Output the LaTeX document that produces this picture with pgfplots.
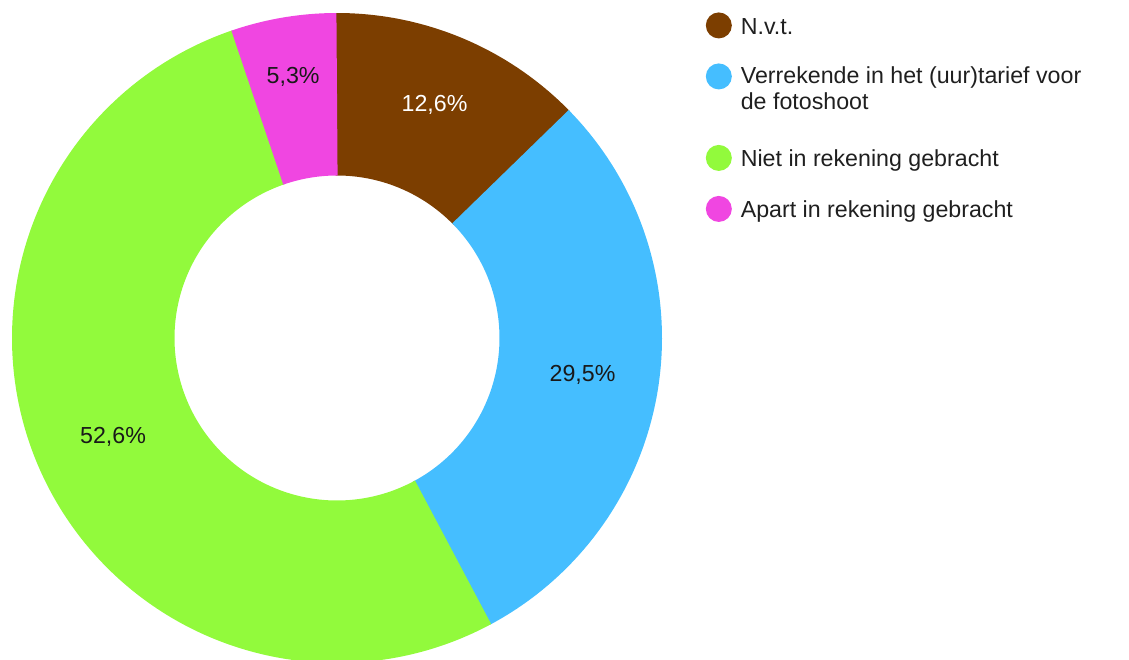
\documentclass[border=0pt]{standalone}
\usepackage{fontspec}
\setmainfont{Liberation Sans}
\usepackage{pgfplots}
\pgfplotsset{compat=1.18}

\definecolor{cNvt}{RGB}{124,62,0}
\definecolor{cVerr}{RGB}{69,190,255}
\definecolor{cNiet}{RGB}{146,250,60}
\definecolor{cApart}{RGB}{240,70,225}

% shares in percent, clockwise from 12 o'clock
\def\vA{12.6}
\def\vB{29.5}
\def\vC{52.6}
\def\vD{5.3}
\pgfmathsetmacro\aA{90}
\pgfmathsetmacro\aB{\aA-3.6*\vA}
\pgfmathsetmacro\aC{\aB-3.6*\vB}
\pgfmathsetmacro\aD{\aC-3.6*\vC}
\pgfmathsetmacro\aE{\aD-3.6*\vD}
\pgfmathsetmacro\mA{(\aA+\aB)/2}
\pgfmathsetmacro\mB{(\aB+\aC)/2}
\pgfmathsetmacro\mC{(\aC+\aD)/2}
\pgfmathsetmacro\mD{(\aD+\aE)/2}
% small overlap so no hairline shows between segments
\pgfmathsetmacro\aAo{\aA+0.4}
\pgfmathsetmacro\aBo{\aB-0.4}
\pgfmathsetmacro\aCo{\aC-0.4}
\pgfmathsetmacro\aDo{\aD-0.4}

\newcommand\lblfont{\fontsize{11.6}{13}\selectfont}

\begin{document}
\begin{tikzpicture}
\useasboundingbox (0,0) rectangle (564.5pt,329.5pt);
\begin{axis}[
  at={(168.5pt,160.5pt)}, anchor=origin,
  width=325pt, height=325pt, scale only axis,
  xmin=-1, xmax=1, ymin=-1, ymax=1,
  hide axis, clip=false,
  legend image code/.code={\path[#1, draw=none] (6.5pt,-4.95pt) circle (6.5pt);},
  legend style={
    at={(rel axis cs:1.0662,1.0015)}, anchor=north west,
    draw=none, fill=none, inner sep=0pt, row sep=12.5pt,
    font=\lblfont, text=black!88,
    nodes={anchor=north west, align=left, inner sep=0pt,
      execute at begin node=\strut, execute at end node=\strut},
    /tikz/every odd column/.append style={column sep=4.5pt},
  },
  every node near coord/.append style={anchor=center, font=\lblfont},
]
% ring segments: arc at mid radius, line as wide as the ring
\addplot[forget plot, data cs=polar, domain=\aBo:\aAo, samples=80, line width=81.25pt, color=cNvt] ({x},{0.75});
\addplot[forget plot, data cs=polar, domain=\aCo:\aB, samples=120, line width=81.25pt, color=cVerr] ({x},{0.75});
\addplot[forget plot, data cs=polar, domain=\aDo:\aC, samples=200, line width=81.25pt, color=cNiet] ({x},{0.75});
\addplot[forget plot, data cs=polar, domain=\aE:\aD, samples=40, line width=81.25pt, color=cApart] ({x},{0.75});

% percentage labels
\addplot[forget plot, data cs=polar, only marks, mark=none, nodes near coords, point meta=explicit symbolic,
  every node near coord/.append style={text=white}] coordinates {(\mA,0.778) [12,6\%]};
\addplot[forget plot, data cs=polar, only marks, mark=none, nodes near coords, point meta=explicit symbolic,
  every node near coord/.append style={text=black!90}] coordinates {
  (\mB,0.764) [29,5\%]
  (\mC,0.753) [52,6\%]
  (\mD,0.814) [5,3\%]
};

\addlegendimage{fill=cNvt}
\addlegendentry{N.v.t.}
\addlegendimage{legend image code/.code={%
  \path[fill=cVerr, draw=none] (6.5pt,-4.95pt) circle (6.5pt);
  \path (0pt,-26.5pt) -- (0pt,-26.5pt);}}
\addlegendentry{Verrekende in het (uur)tarief voor\\de fotoshoot}
\addlegendimage{fill=cNiet}
\addlegendentry{Niet in rekening gebracht}
\addlegendimage{fill=cApart}
\addlegendentry{Apart in rekening gebracht}
\end{axis}
\end{tikzpicture}
\end{document}
